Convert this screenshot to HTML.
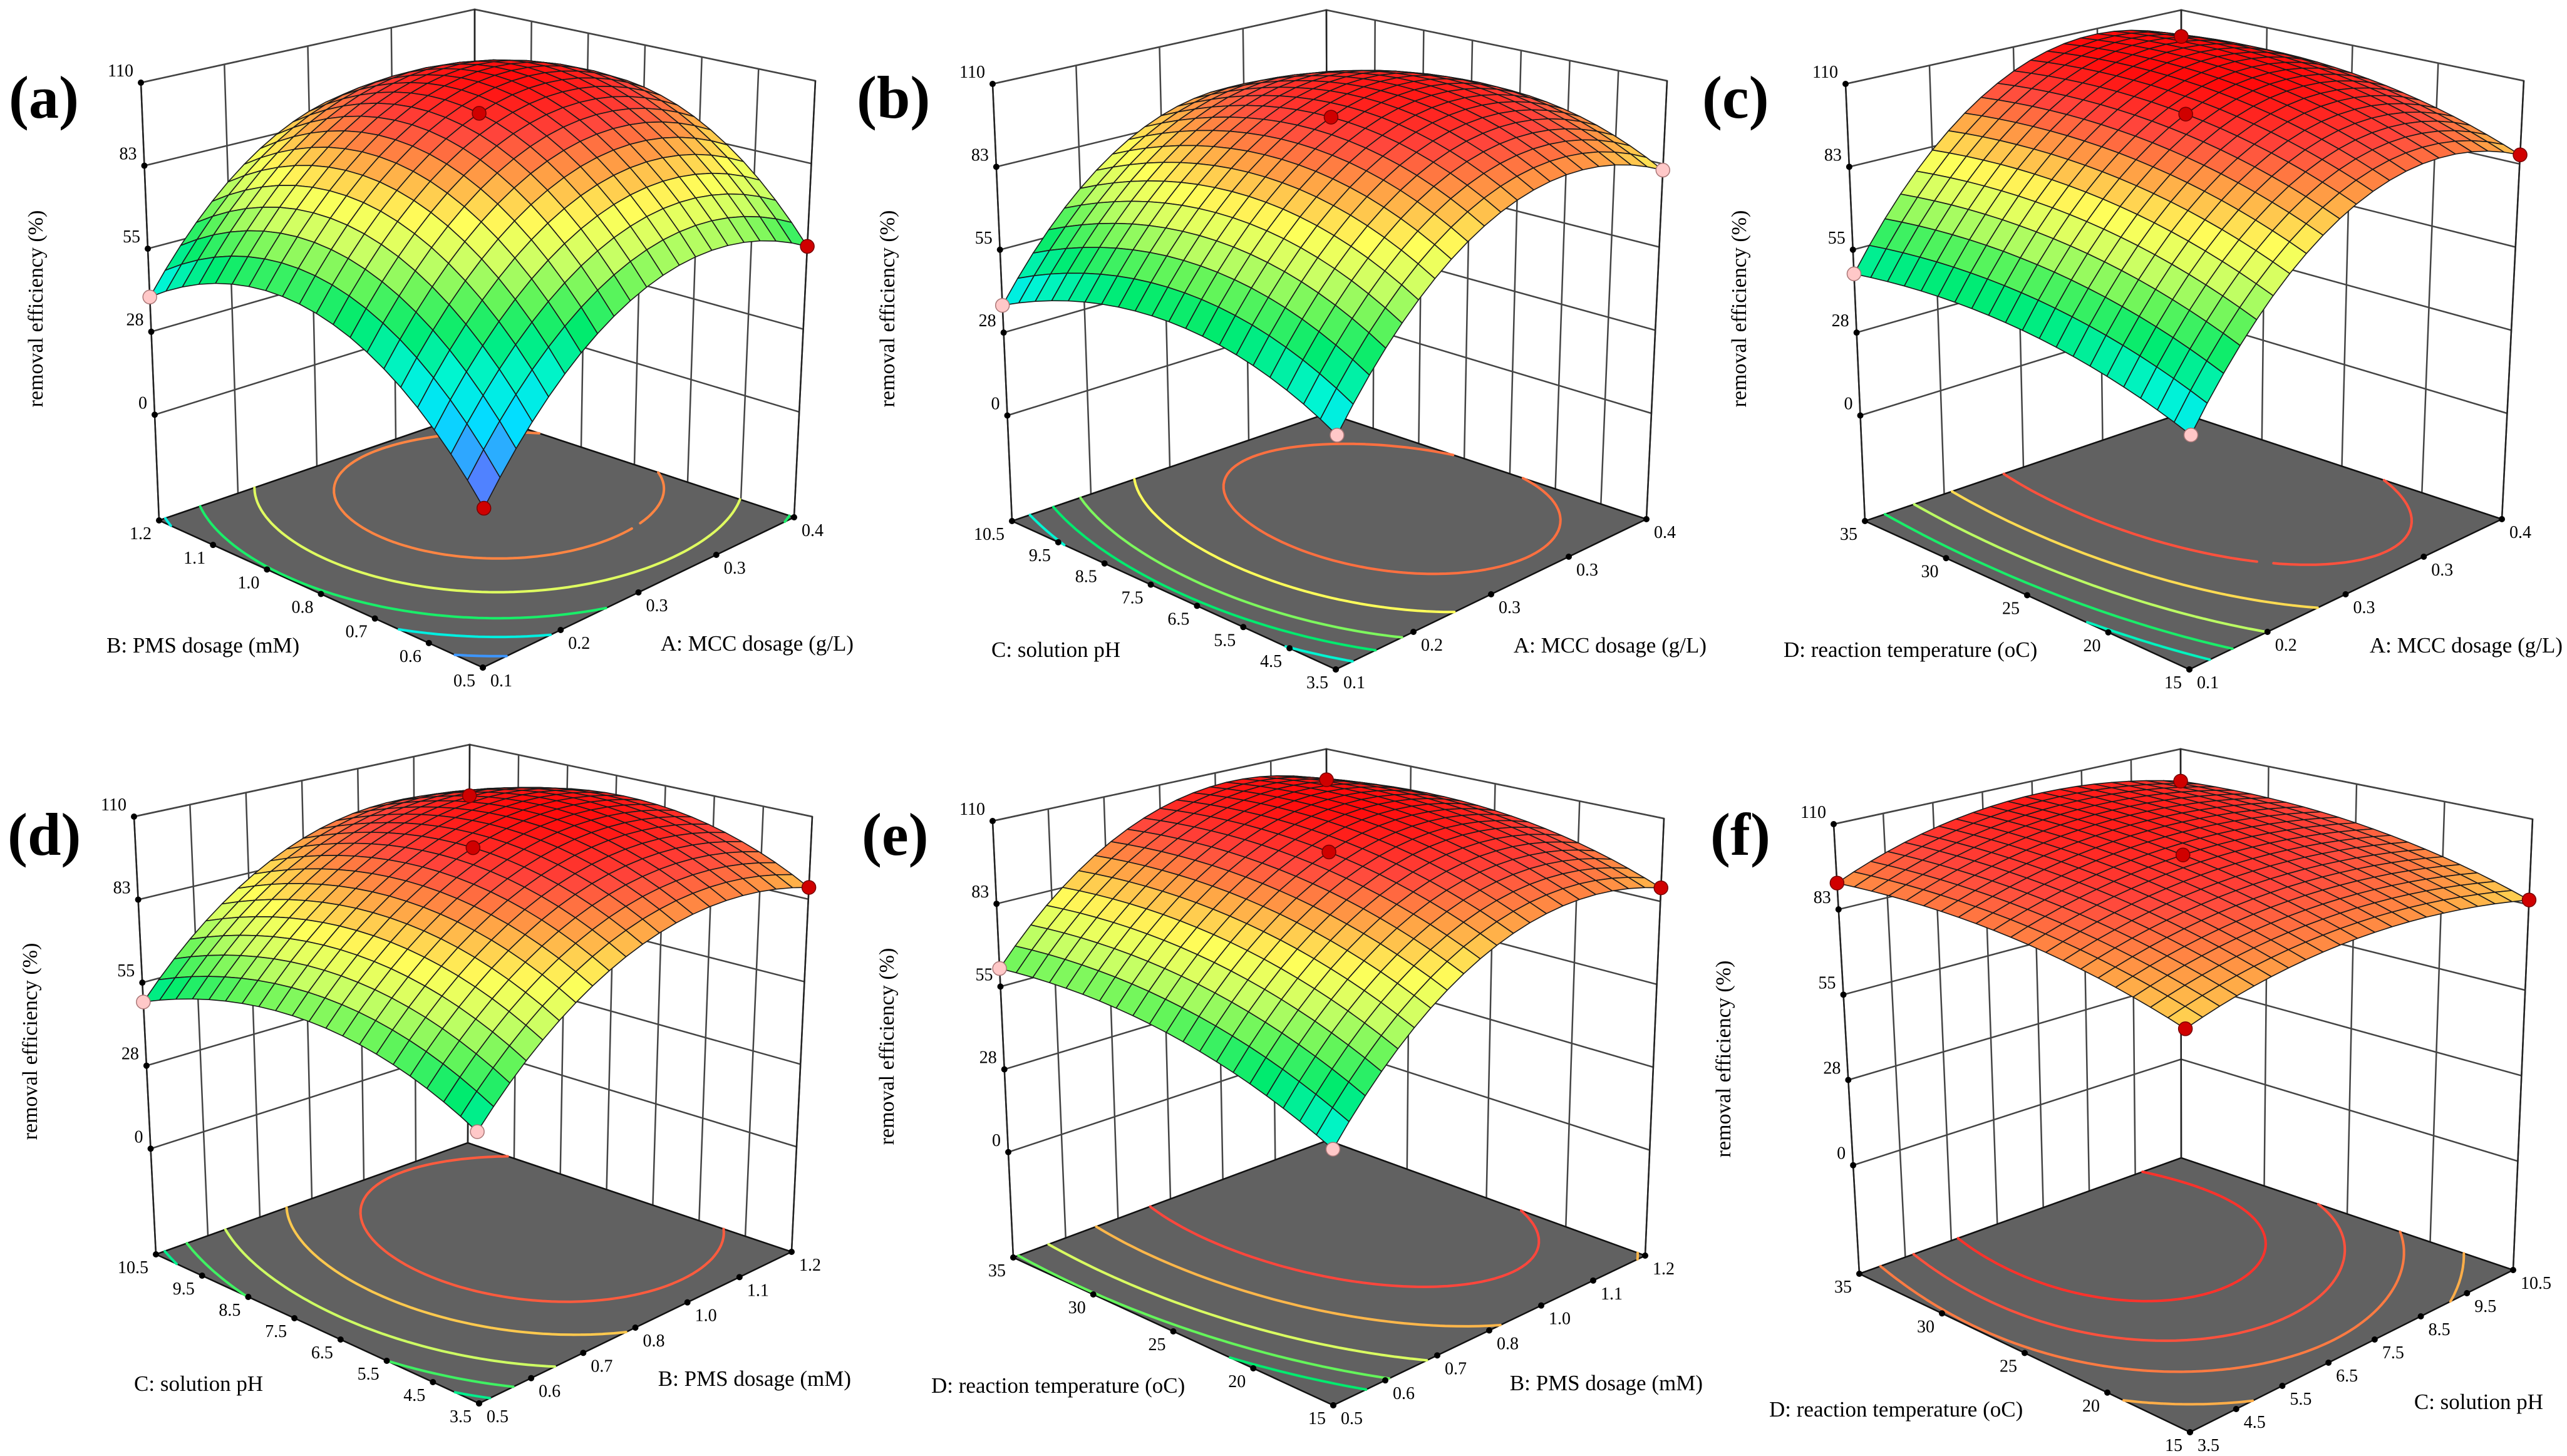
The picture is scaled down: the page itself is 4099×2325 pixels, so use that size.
<!DOCTYPE html>
<html><head><meta charset="utf-8"><title>Response surface plots</title>
<style>html,body{margin:0;padding:0;background:#fff}svg{display:block}text{font-family:"Liberation Serif","DejaVu Serif",serif;fill:#000}</style>
</head><body>
<svg id="fig" xmlns="http://www.w3.org/2000/svg" width="4099" height="2325" viewBox="0 0 4099 2325"><rect width="4099" height="2325" fill="#fff"/></svg>
<script>
// ---------- data ----------
const zTickValues = [0, 27.5, 55, 82.5, 110];
const zTickLabels = ["0", "28", "55", "83", "110"];
const ticksMCC = ["0.1", "0.2", "0.3", "0.3", "0.4"];
const ticksPMS = ["0.5", "0.6", "0.7", "0.8", "1.0", "1.1", "1.2"];
const ticksPH = ["3.5", "4.5", "5.5", "6.5", "7.5", "8.5", "9.5", "10.5"];
const ticksTemp = ["15", "20", "25", "30", "35"];
// 3x3 response grids: rows = right-axis factor (low, mid, high), cols = left-axis factor (low, mid, high)
const surfaceA = [[14, 54.5, 39], [62.5, 103, 87.5], [55, 95.5, 80]];
const surfaceB = [[36.95, 52.25, 36.55], [86.7, 102, 86.3], [80.45, 95.75, 80.05]];
const surfaceC = [[37, 49.5, 47], [89.25, 103, 101.75], [85.5, 100.5, 100.5]];
const surfaceD = [[48, 62.7, 48.6], [87.2, 103, 90], [86.4, 103.3, 91.4]];
const surfaceE = [[42, 59.35, 61], [86.5, 102, 101.8], [87, 100.65, 98.6]];
const surfaceF = [[84, 93.1, 91], [92, 103, 105], [84, 96.9, 98.6]];
// contour levels per panel
const contoursA = [25, 42, 57, 75, 93];
const contoursB = [45, 55, 65, 80, 95];
const contoursC = [47, 57, 70, 84, 98];
const contoursD = [52, 60, 72, 86, 97];
const contoursE = [55, 63, 74, 88, 99];
const contoursF = [84, 89, 94, 98, 102];
// design points: [rightIdx, leftIdx, above-surface?]
const pointsA = [[1,1,1],[0,0,1],[0,2,0],[2,0,1]];
const pointsB = [[1,1,1],[0,0,0],[0,2,0],[2,0,0]];
const pointsC = [[1,1,1],[2,2,1],[2,0,1],[0,2,0],[0,0,0]];
const pointsD = [[1,1,1],[2,2,1],[2,0,1],[0,2,0],[0,0,0]];
const pointsE = [[1,1,1],[2,2,1],[2,0,1],[0,2,0],[0,0,0]];
const pointsF = [[1,1,1],[2,2,1],[2,0,1],[0,2,1],[0,0,1]];

// ---------- style / layout ----------
const ZMIN = -35, ZMAX = 110, NS = 20;
const cmap = [[15,[110,100,255]],[25,[60,150,255]],[35,[0,225,255]],[45,[0,245,210]],[55,[0,235,110]],[63,[100,245,90]],[71,[200,255,100]],[80,[255,255,90]],[90,[255,165,70]],[99,[255,70,60]],[108,[255,10,10]]];
function col(z){
  if(z<=cmap[0][0]) return rgb(cmap[0][1]);
  for(let i=1;i<cmap.length;i++){ if(z<=cmap[i][0]){ const a=cmap[i-1],b=cmap[i],t=(z-a[0])/(b[0]-a[0]); return rgb(a[1].map((c,k)=>c+(b[1][k]-c)*t)); } }
  return rgb(cmap[cmap.length-1][1]);
}
function rgb(c){return 'rgb('+c.map(x=>Math.round(x)).join(',')+')';}

const panels = [
 {key:'a', grid:surfaceA, lev:contoursA, pts:pointsA, rT:ticksMCC, lT:ticksPMS, rName:'A: MCC dosage (g/L)', lName:'B: PMS dosage (mM)',
  LT:[225,132], LF:[254,831], KT:[758,15], KF:[758,658], RT:[1302,129], RF:[1268,826], F:[771,1066],
  lab:[14,188], zt:[60,493], ln:[170,1042], rn:[1363,1039]},
 {key:'b', grid:surfaceB, lev:contoursB, pts:pointsB, rT:ticksMCC, lT:ticksPH, rName:'A: MCC dosage (g/L)', lName:'C: solution pH',
  LT:[1585,134], LF:[1616,832], KT:[2118,16], KF:[2120,660], RT:[2662,129], RF:[2629,829], F:[2133,1069],
  lab:[1368,188], zt:[1420,493], ln:[1583,1049], rn:[2725,1042]},
 {key:'c', grid:surfaceC, lev:contoursC, pts:pointsC, rT:ticksMCC, lT:ticksTemp, rName:'A: MCC dosage (g/L)', lName:'D: reaction temperature (oC)',
  LT:[2947,134], LF:[2978,832], KT:[3483,16], KF:[3484,660], RT:[4030,129], RF:[3995,829], F:[3496,1069],
  lab:[2718,188], zt:[2780,493], ln:[2848,1049], rn:[4092,1042]},
 {key:'d', grid:surfaceD, lev:contoursD, pts:pointsD, rT:ticksPMS, lT:ticksPH, rName:'B: PMS dosage (mM)', lName:'C: solution pH',
  LT:[214,1304], LF:[249,2003], KT:[750,1189], KF:[747,1825], RT:[1297,1304], RF:[1264,1999], F:[765,2241],
  lab:[12,1365], zt:[51,1663], ln:[214,2221], rn:[1359,2213]},
 {key:'e', grid:surfaceE, lev:contoursE, pts:pointsE, rT:ticksPMS, lT:ticksTemp, rName:'B: PMS dosage (mM)', lName:'D: reaction temperature (oC)',
  LT:[1585,1311], LF:[1618,2008], KT:[2118,1196], KF:[2120,1821], RT:[2657,1307], RF:[2627,2005], F:[2129,2244],
  lab:[1376,1365], zt:[1419,1671], ln:[1487,2224], rn:[2719,2220]},
 {key:'f', grid:surfaceF, lev:contoursF, pts:pointsF, rT:ticksPH, lT:ticksTemp, rName:'C: solution pH', lName:'D: reaction temperature (oC)',
  LT:[2928,1316], LF:[2969,2034], KT:[3482,1196], KF:[3483,1849], RT:[4044,1308], RF:[4013,2028], F:[3497,2287],
  lab:[2731,1365], zt:[2755,1691], ln:[2825,2262], rn:[4061,2250]}
];

const NS_SVG = 'http://www.w3.org/2000/svg';
const svg = document.getElementById('fig');
function mk(parent, tag, attrs){ const e=document.createElementNS(NS_SVG,tag); for(const k in attrs) e.setAttribute(k,attrs[k]); parent.appendChild(e); return e; }

function geom(p){
  const H = ZMAX-ZMIN;
  const zL=[(p.LT[0]-p.LF[0])/H,(p.LT[1]-p.LF[1])/H], zR=[(p.RT[0]-p.RF[0])/H,(p.RT[1]-p.RF[1])/H], zK=[(p.KT[0]-p.KF[0])/H,(p.KT[1]-p.KF[1])/H];
  const zF=[zL[0]+zR[0]-zK[0], zL[1]+zR[1]-zK[1]];
  return function(u,v,z){
    const w=[(1-u)*(1-v),u*(1-v),(1-u)*v,u*v];
    const fl=[p.F,p.RF,p.LF,p.KF], zv=[zF,zR,zL,zK];
    let x=0,y=0,dx=0,dy=0;
    for(let i=0;i<4;i++){x+=w[i]*fl[i][0];y+=w[i]*fl[i][1];dx+=w[i]*zv[i][0];dy+=w[i]*zv[i][1];}
    return [x+(z-ZMIN)*dx, y+(z-ZMIN)*dy];
  };
}
function basis(t){return [t*(t-1)/2, 1-t*t, t*(t+1)/2];}
function val(g,u,v){ const a=basis(2*u-1), b=basis(2*v-1); let s=0; for(let i=0;i<3;i++)for(let j=0;j<3;j++) s+=a[i]*b[j]*g[i][j]; return s; }
function pts(arr){return arr.map(q=>q[0].toFixed(1)+','+q[1].toFixed(1)).join(' ');}
function seg(a,b){return `M${a[0].toFixed(1)},${a[1].toFixed(1)}L${b[0].toFixed(1)},${b[1].toFixed(1)}`;}

panels.forEach(p=>{
  const P = geom(p);
  const grp = mk(svg,'g',{});
  
  

  // walls
  const lw = mk(grp,'polygon',{points:pts([P(0,1,ZMIN),P(1,1,ZMIN),P(1,1,ZMAX),P(0,1,ZMAX)]),fill:'#fff',stroke:'#444','stroke-width':2.5});
  
  
  const rw = mk(grp,'polygon',{points:pts([P(1,0,ZMIN),P(1,1,ZMIN),P(1,1,ZMAX),P(1,0,ZMAX)]),fill:'#fff',stroke:'#444','stroke-width':2.5});
  
  
  let gd='';
  zTickValues.forEach(z=>{ gd+=seg(P(0,1,z),P(1,1,z))+seg(P(1,1,z),P(1,0,z)); });
  for(let i=1;i<p.rT.length-1;i++){ const u=i/(p.rT.length-1); gd+=seg(P(u,1,ZMIN),P(u,1,ZMAX)); }
  for(let j=1;j<p.lT.length-1;j++){ const v=j/(p.lT.length-1); gd+=seg(P(1,v,ZMIN),P(1,v,ZMAX)); }
  const wg = mk(grp,'path',{d:gd,fill:'none',stroke:'#444','stroke-width':2.5});
  
  

  // floor
  const fl = mk(grp,'polygon',{points:pts([P(0,0,ZMIN),P(1,0,ZMIN),P(1,1,ZMIN),P(0,1,ZMIN)]),fill:'#616161',stroke:'#111','stroke-width':2.5});
  
  

  // contours (marching squares)
  const N=60;
  const vals=[]; for(let i=0;i<=N;i++){vals.push([]);for(let j=0;j<=N;j++)vals[i].push(val(p.grid,i/N,j/N));}
  p.lev.forEach(L=>{
    let d='';
    for(let i=0;i<N;i++)for(let j=0;j<N;j++){
      const c=[[i,j],[i+1,j],[i+1,j+1],[i,j+1]];
      const cr=[];
      for(let k=0;k<4;k++){ const a=c[k],b=c[(k+1)%4]; const va=vals[a[0]][a[1]], vb=vals[b[0]][b[1]];
        if((va-L)*(vb-L)<0){ const t=(L-va)/(vb-va); cr.push([(a[0]+(b[0]-a[0])*t)/N,(a[1]+(b[1]-a[1])*t)/N]); } }
      for(let k=0;k+1<cr.length;k+=2){ d+=seg(P(cr[k][0],cr[k][1],ZMIN),P(cr[k+1][0],cr[k+1][1],ZMIN)); }
    }
    const cp = mk(grp,'path',{d:d,fill:'none',stroke:col(L),'stroke-width':4,'stroke-linecap':'round'});
    
    
  });

  // axes lines
  const ax = mk(grp,'path',{d:seg(P(0,1,ZMIN),P(0,1,ZMAX))+seg(P(1,0,ZMIN),P(1,0,ZMAX))+seg(P(1,1,ZMIN),P(1,1,ZMAX)),fill:'none',stroke:'#222','stroke-width':2.5});
  
  

  // z ticks
  zTickValues.forEach((z,i)=>{
    const q=P(0,1,z);
    const dot=mk(grp,'circle',{cx:q[0],cy:q[1],r:5,fill:'#000'});
    
    
    const t=mk(grp,'text',{x:q[0]-12,y:q[1]-10,'font-size':28,'text-anchor':'end'});
    
    
    t.textContent=zTickLabels[i];
  });
  // floor ticks
  p.lT.forEach((s,j)=>{
    const q=P(0,j/(p.lT.length-1),ZMIN);
    const dot=mk(grp,'circle',{cx:q[0],cy:q[1],r:5,fill:'#000'});
    
    
    const t=mk(grp,'text',{x:q[0]-12,y:q[1]+30,'font-size':28,'text-anchor':'end'});
    
    
    t.textContent=s;
  });
  p.rT.forEach((s,i)=>{
    const q=P(i/(p.rT.length-1),0,ZMIN);
    const dot=mk(grp,'circle',{cx:q[0],cy:q[1],r:5,fill:'#000'});
    
    
    const t=mk(grp,'text',{x:q[0]+12,y:q[1]+30,'font-size':28,'text-anchor':'start'});
    
    
    t.textContent=s;
  });

  // surface
  const quads=[];
  for(let i=0;i<NS;i++)for(let j=0;j<NS;j++){
    const u0=i/NS,u1=(i+1)/NS,v0=j/NS,v1=(j+1)/NS;
    const z00=val(p.grid,u0,v0),z10=val(p.grid,u1,v0),z11=val(p.grid,u1,v1),z01=val(p.grid,u0,v1);
    quads.push({d:u0+u1+v0+v1, poly:[P(u0,v0,z00),P(u1,v0,z10),P(u1,v1,z11),P(u0,v1,z01)], z:(z00+z10+z11+z01)/4});
  }
  quads.sort((a,b)=>b.d-a.d);
  const sg=mk(grp,'g',{});
  
  
  quads.forEach(q=>{
    const e=mk(sg,'polygon',{points:pts(q.poly),fill:col(q.z),stroke:'#1a1a1a','stroke-width':1.6,'stroke-linejoin':'round'});
    
    
  });

  // design points
  p.pts.forEach(d=>{
    const u=d[0]/2,v=d[1]/2, z=p.grid[d[0]][d[1]];
    const q=P(u,v,z);
    const c=mk(grp,'circle',{cx:q[0],cy:q[1],r:11,fill:d[2]?'#d00000':'#ffc8c8',stroke:d[2]?'#700':'#a77','stroke-width':1.5});
    
    
  });

  // labels
  const pl=mk(grp,'text',{x:p.lab[0],y:p.lab[1],'font-size':96,'font-weight':'bold'});
  
  
  pl.textContent='('+p.key+')';
  const zt=mk(grp,'text',{x:p.zt[0],y:p.zt[1],'font-size':34,'text-anchor':'middle',transform:`rotate(-90 ${p.zt[0]} ${p.zt[1]})`,'dominant-baseline':'middle'});
  
  
  zt.textContent='removal efficiency (%)';
  const ln=mk(grp,'text',{x:p.ln[0],y:p.ln[1],'font-size':35,'text-anchor':'start'});
  
  
  ln.textContent=p.lName;
  const rn=mk(grp,'text',{x:p.rn[0],y:p.rn[1],'font-size':35,'text-anchor':'end'});
  
  
  rn.textContent=p.rName;
});
</script>
</body></html>
